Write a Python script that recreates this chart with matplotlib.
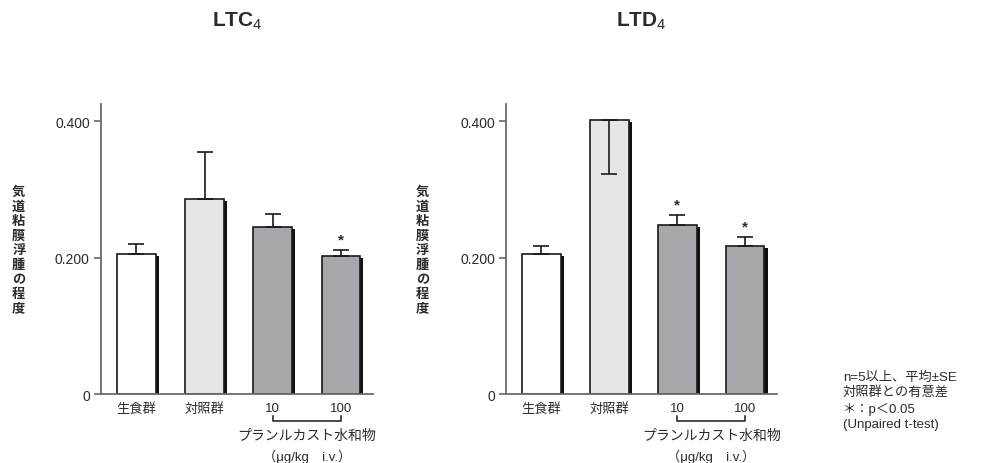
import matplotlib
matplotlib.use("Agg")
import matplotlib.pyplot as plt
import matplotlib.patheffects as pe
import matplotlib.transforms as mtransforms

plt.rcParams['font.family'] = ['Liberation Sans', 'Noto Sans CJK JP']
plt.rcParams['mathtext.fontset'] = 'custom'
plt.rcParams['mathtext.rm'] = 'Liberation Sans'
plt.rcParams['mathtext.bf'] = 'Liberation Sans:bold'

# Data
categories = ['生食群', '対照群', '10', '100']
colors = ['#ffffff', '#e6e6e6', '#a7a8ac', '#a7a8ac']

ltc4_mean = [0.205, 0.286, 0.245, 0.202]
ltc4_se_up = [0.015, 0.069, 0.019, 0.009]
ltc4_se_down = [0, 0, 0, 0]
ltc4_sig = [False, False, False, True]

ltd4_mean = [0.205, 0.401, 0.248, 0.217]
ltd4_se_up = [0.012, 0, 0.014, 0.013]
ltd4_se_down = [0, 0.079, 0, 0]
ltd4_sig = [False, False, True, True]

titles = ['LTC$_4$', 'LTD$_4$']
ylabel = '気道粘膜浮腫の程度'
yticks = [0, 0.2, 0.4]
yticklabels = ['0', '0.200', '0.400']
drug_label = 'プランルカスト水和物'
dose_label = '（μg/kg　i.v.）'
note_lines = ['n=5以上、平均±SE', '対照群との有意差', '＊：p＜0.05', '(Unpaired t-test)']

text_color = '#2b2b2b'
axis_color = '#6a6a6a'

fig = plt.figure(figsize=(9.87, 4.64), dpi=100)

panels = [
    (ltc4_mean, ltc4_se_down, ltc4_se_up, ltc4_sig, [0.1023, 0.1487, 0.2756, 0.625], 0.019),
    (ltd4_mean, ltd4_se_down, ltd4_se_up, ltd4_sig, [0.5127, 0.1487, 0.2746, 0.625], 0.428),
]

for idx, (means, se_down, se_up, sig, rect, ylab_x) in enumerate(panels):
    ax = fig.add_axes(rect)
    x = list(range(len(categories)))
    shadow = [pe.SimplePatchShadow(offset=(2.2, -1.5), shadow_rgbFace='#111111', alpha=1.0),
              pe.Normal()]
    bars = ax.bar(x, means, width=0.57, color=colors, edgecolor='#1a1a1a',
                  linewidth=1.2, zorder=2)
    for b in bars:
        b.set_path_effects(shadow)
    ax.errorbar(x, means, yerr=[se_down, se_up], fmt='none', ecolor='#1a1a1a',
                elinewidth=1.2, capsize=6, capthick=1.2, zorder=3)
    for xi, m, up, s in zip(x, means, se_up, sig):
        if s:
            ax.text(xi, m + up + 0.005, '*', ha='center', va='bottom',
                    fontsize=11, color=text_color, fontweight='bold')

    ax.set_xlim(-0.52, 3.47)
    ax.set_ylim(0, 0.425)
    ax.set_yticks(yticks)
    ax.set_yticklabels(yticklabels)
    ax.set_xticks(x)
    ax.set_xticklabels(categories)
    ax.tick_params(axis='x', length=0, pad=6, labelsize=9.5, colors=text_color)
    ax.tick_params(axis='y', length=5, width=1.2, color=axis_color, pad=3,
                   labelsize=10, labelcolor=text_color)
    for sp in ['top', 'right']:
        ax.spines[sp].set_visible(False)
    for sp in ['left', 'bottom']:
        ax.spines[sp].set_color(axis_color)
        ax.spines[sp].set_linewidth(1.3)

    # dose bracket under the two drug groups
    trans = mtransforms.blended_transform_factory(ax.transData, ax.transAxes)
    yb = -0.093
    ax.plot([2, 2, 3, 3], [yb + 0.018, yb, yb, yb + 0.018], color='#1a1a1a',
            lw=1.1, transform=trans, clip_on=False)
    ax.text(2.5, -0.116, drug_label, transform=trans, ha='center', va='top',
            fontsize=10, color=text_color)
    ax.text(2.5, -0.187, dose_label, transform=trans, ha='center', va='top',
            fontsize=9.5, color=text_color)

    # panel title
    ax.text(0.5, (464 - 21) / 464, titles[idx],
            transform=mtransforms.blended_transform_factory(ax.transAxes, fig.transFigure),
            ha='center', va='center', fontsize=15, fontweight='bold', color=text_color)

    # stacked vertical y label
    fig.text(ylab_x, (464 - 251) / 464, '\n'.join(ylabel), ha='center', va='center',
             fontsize=9.5, color=text_color, linespacing=1.25, fontweight='bold')

fig.text(843 / 987, (464 - 372) / 464, '\n'.join(note_lines), ha='left', va='top',
         fontsize=9.5, color=text_color, linespacing=1.3)

fig.savefig('out.png', dpi=100)
